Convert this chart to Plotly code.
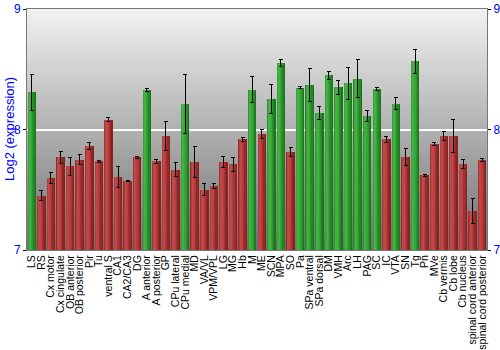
import base64
import struct
import zlib

import plotly.graph_objects as go

regions = ["LS", "RS", "Cx motor", "Cx cingulate", "OB anterior", "OB posterior", "Pir", "Tu",
           "ventral S", "CA1", "CA2/CA3", "DG", "A anterior", "A posterior", "GP", "CPu lateral",
           "CPu medial", "MD", "VA/VL", "VPM/VPL", "LG", "MG", "Hb", "M", "ME", "SCN", "MPA", "SO",
           "Pa", "SPa ventral", "SPa dorsal", "DM", "VMH", "Arc", "LH", "PAG", "SC", "IC", "VTA",
           "SN", "Tg", "Pn", "MVe", "Cb vermis", "Cb lobe", "Cb nucleus", "spinal cord anterior",
           "spinal cord posterior"]
expression = [8.31, 7.45, 7.60, 7.77, 7.695, 7.75, 7.865, 7.735,
              8.08, 7.606, 7.573, 7.77, 8.328, 7.735, 7.946, 7.667,
              8.212, 7.73, 7.50, 7.528, 7.73, 7.71, 7.918, 8.33, 7.963, 8.253, 8.555, 7.813,
              8.347, 8.367, 8.134, 8.45, 8.35, 8.383, 8.422, 8.112, 8.334, 7.918, 8.212,
              7.772, 8.566, 7.622, 7.88, 7.946, 7.946, 7.714, 7.324,
              7.747]
errors = [0.15, 0.04, 0.047, 0.048, 0.073, 0.04, 0.03, 0.01,
          0.017, 0.087, 0.005, 0.01, 0.01, 0.02, 0.12, 0.058,
          0.245, 0.125, 0.05, 0.02, 0.045, 0.058, 0.017, 0.106, 0.04, 0.118, 0.03, 0.04,
          0.01, 0.137, 0.055, 0.035, 0.06, 0.13, 0.157, 0.045, 0.013, 0.025, 0.05,
          0.068, 0.1, 0.008, 0.013, 0.04, 0.137, 0.04, 0.107,
          0.01]
enriched = ["LS", "A anterior", "CPu medial", "M", "SCN", "MPA", "Pa", "SPa ventral", "SPa dorsal",
            "DM", "VMH", "Arc", "LH", "PAG", "SC", "VTA", "Tg"]
y_ticks = [7, 8, 9]

base = 7.0
heights = [v - base for v in expression]
is_g = [r in enriched for r in regions]


def gradient_png(top, bot, n=256):
    rows = b""
    for k in range(n):
        t = k / (n - 1)
        c = bytes(int(round(top[j] + (bot[j] - top[j]) * t)) for j in range(3))
        rows += b"\x00" + c
    def chunk(tag, data):
        return struct.pack(">I", len(data)) + tag + data + struct.pack(">I", zlib.crc32(tag + data) & 0xffffffff)
    png = b"\x89PNG\r\n\x1a\n"
    png += chunk(b"IHDR", struct.pack(">IIBBBBB", 1, n, 8, 2, 0, 0, 0))
    png += chunk(b"IDAT", zlib.compress(rows))
    png += chunk(b"IEND", b"")
    return "data:image/png;base64," + base64.b64encode(png).decode()


stripes = [
    (-0.44, 0.88, "#1d741d", "#862222"),
    (-0.44, 0.74, "#238623", "#982828"),
    (-0.42, 0.58, "#2c962c", "#a83232"),
    (-0.38, 0.42, "#36a436", "#b53d3d"),
    (-0.32, 0.24, "#42b042", "#be4848"),
]

fig = go.Figure()
for off, w, gc, rc in stripes:
    fig.add_trace(go.Bar(
        x=regions, y=heights, base=base,
        offset=off, width=w,
        marker=dict(color=[gc if g else rc for g in is_g], line=dict(width=0)),
        showlegend=False, hoverinfo="skip",
    ))
fig.add_trace(go.Bar(
    x=regions, y=heights, base=base, width=0.88,
    marker=dict(color="rgba(0,0,0,0)", line=dict(width=0)),
    error_y=dict(type="data", array=errors, color="black", thickness=1, width=2),
    showlegend=False,
))
fig.add_trace(go.Scatter(x=[regions[0]], y=[8], yaxis="y2", mode="markers",
                         marker=dict(opacity=0), showlegend=False, hoverinfo="skip"))

fig.add_layout_image(dict(
    source=gradient_png((242, 242, 242), (112, 112, 112)),
    xref="paper", yref="paper", x=0, y=1, sizex=1, sizey=1,
    sizing="stretch", layer="below", xanchor="left", yanchor="top",
))

fig.add_annotation(text="Log2 (expression)", textangle=-90, showarrow=False,
                   xref="paper", yref="paper", x=0, y=0.5, xanchor="center", yanchor="middle",
                   xshift=-17.5, font=dict(size=13, color="#0000ff"))

fig.update_layout(
    width=500, height=350,
    margin=dict(l=27, r=13, t=9, b=100),
    barmode="overlay", bargap=0,
    plot_bgcolor="rgba(0,0,0,0)", paper_bgcolor="white",
    font=dict(family="Liberation Sans, Arial, sans-serif", color="black"),
    xaxis=dict(tickangle=-90, tickfont=dict(size=10.5, color="black"), showgrid=False,
               tickmode="array", tickvals=regions, ticktext=regions, automargin=False,
               showline=True, mirror=True, linecolor="#777777", ticks="",
               range=[-0.5, len(regions) - 0.5]),
    yaxis=dict(range=[7, 9], tickvals=y_ticks, showgrid=True, gridcolor="white", gridwidth=1.5,
               zeroline=False, automargin=False,
               tickfont=dict(size=12, color="#0000ff"), ticks="outside", ticklen=3,
               tickcolor="black", showline=True, linecolor="#777777"),
    yaxis2=dict(range=[7, 9], tickvals=y_ticks, overlaying="y", side="right",
                showgrid=False, zeroline=False, automargin=False,
                tickfont=dict(size=12, color="#0000ff"),
                ticks="outside", ticklen=3, tickcolor="black", showline=True,
                linecolor="#777777"),
)

fig.write_html("out.html")
